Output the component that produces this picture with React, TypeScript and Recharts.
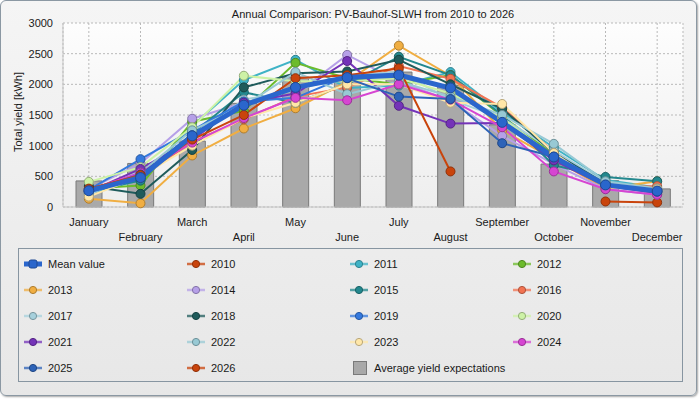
import React from 'react';
import { ComposedChart, Bar, Line, XAxis, YAxis, CartesianGrid } from 'recharts';

const months = ['January', 'February', 'March', 'April', 'May', 'June', 'July', 'August', 'September', 'October', 'November', 'December'];
const yTicks = [0, 500, 1000, 1500, 2000, 2500, 3000];

const expected = [425, 710, 1075, 1690, 2120, 2060, 2200, 1980, 1340, 700, 430, 295];
const meanValue = [265, 480, 1160, 1660, 1950, 2110, 2150, 1940, 1380, 815, 360, 260];

const y2010 = [null, null, null, null, null, null, null, null, null, null, 90, 75];
const y2011 = [225, 440, 1320, 2070, 2400, 1940, 1980, 2200, 1540, 970, 440, 320];
const y2012 = [300, 350, 1390, 1570, 2350, 2100, 2000, 2150, 1480, 850, 380, 230];
const y2013 = [135, 60, 840, 1280, 1610, 2040, 2630, 2140, 1250, 780, 300, 420];
const y2014 = [290, 710, 1440, 1700, 1840, 2480, 2050, 1730, 1160, 700, 290, 200];
const y2015 = [260, 430, 1200, 1870, 1700, 2000, 2450, 2150, 1500, 680, 490, 420];
const y2016 = [250, 480, 1060, 1430, 1800, 1950, 2300, 2090, 1620, 900, 330, 340];
const y2017 = [200, 600, 1150, 1750, 1900, 2150, 2200, 1750, 1450, 920, 400, 280];
const y2018 = [340, 215, 930, 1950, 2180, 2210, 2400, 2000, 1600, 880, 380, 260];
const y2019 = [280, 780, 1250, 1720, 1780, 2130, 2160, 1950, 1380, 800, 350, 280];
const y2020 = [410, 650, 1300, 2140, 2050, 2050, 2100, 1850, 1450, 820, 380, 300];
const y2021 = [250, 620, 1100, 1700, 1850, 2380, 1650, 1360, 1370, 760, 340, 230];
const y2022 = [220, 560, 1250, 1650, 2200, 1840, 2050, 1800, 1500, 1030, 420, 300];
const y2023 = [170, 500, 1000, 1450, 1700, 2000, 2000, 1700, 1680, 880, 320, 290];
const y2024 = [280, 560, 1050, 1450, 1780, 1740, 2000, 1750, 1300, 580, 290, 200];
const y2025 = [270, 530, 1170, 1650, 1950, 2100, 1800, 1760, 1040, 820, 360, 250];
const y2026 = [300, 520, 1100, 1500, 2100, 2150, 2260, 580, null, null, null, null];

const yearNames = ['2010', '2011', '2012', '2013', '2014', '2015', '2016', '2017', '2018', '2019', '2020', '2021', '2022', '2023', '2024', '2025', '2026'];
const yearValues = [y2010, y2011, y2012, y2013, y2014, y2015, y2016, y2017, y2018, y2019, y2020, y2021, y2022, y2023, y2024, y2025, y2026];

const yearColors: Record<string, string> = {
  '2010': '#c9440c',
  '2011': '#3fb3c6',
  '2012': '#6cbb2c',
  '2013': '#f0ae42',
  '2014': '#b6a0e8',
  '2015': '#23888e',
  '2016': '#f27352',
  '2017': '#a6d0dc',
  '2018': '#1f5b5b',
  '2019': '#3479de',
  '2020': '#cdf2a6',
  '2021': '#7433b8',
  '2022': '#98c9d4',
  '2023': '#ffe7a8',
  '2024': '#d645d2',
  '2025': '#2d63b8',
  '2026': '#c9440c',
};
const MEAN_COLOR = '#2a66cc';
const BAR_COLOR = '#a9a9a9';
const FONT = '"Liberation Sans", Arial, sans-serif';

const data = months.map((m, i) => {
  const row: Record<string, any> = { month: m, expected: expected[i], mean: meanValue[i] };
  yearNames.forEach((y, k) => {
    row['y' + y] = yearValues[k][i];
  });
  return row;
});

function darken(hex: string, f = 0.72) {
  const n = parseInt(hex.slice(1), 16);
  const r = Math.round(((n >> 16) & 255) * f);
  const g = Math.round(((n >> 8) & 255) * f);
  const b = Math.round((n & 255) * f);
  return `rgb(${r},${g},${b})`;
}

const XTick = (props: any) => {
  const { x, y, payload } = props;
  const idx = months.indexOf(payload.value);
  return (
    <text x={x} y={y + (idx % 2 === 0 ? 19 : 34)} textAnchor="middle" fontSize={11} fill="#1a1a1a" fontFamily={FONT}>
      {payload.value}
    </text>
  );
};

const YLabel = (props: any) => {
  const vb = props.viewBox || { x: 0, y: 23, width: 63, height: 184 };
  const cx = vb.x + 22;
  const cy = vb.y + vb.height / 2 - 3;
  return (
    <text x={cx} y={cy} transform={`rotate(-90 ${cx} ${cy})`} textAnchor="middle" fontSize={11} fill="#1a1a1a" fontFamily={FONT}>
      Total yield [kWh]
    </text>
  );
};

const LegendMarker = ({ name }: { name: string }) => {
  if (name === 'mean') {
    return (
      <svg width={20} height={14}>
        <line x1={0} y1={7} x2={18} y2={7} stroke={MEAN_COLOR} strokeWidth={5} />
        <rect x={5} y={3} width={8} height={8} rx={2} fill={MEAN_COLOR} stroke={darken(MEAN_COLOR)} strokeWidth={1} />
      </svg>
    );
  }
  if (name === 'expected') {
    return (
      <svg width={20} height={16}>
        <rect x={3.5} y={1.5} width={13} height={13} fill={BAR_COLOR} stroke="#7a7a7a" strokeWidth={1} />
      </svg>
    );
  }
  const c = yearColors[name];
  return (
    <svg width={20} height={14}>
      <line x1={0} y1={7} x2={18} y2={7} stroke={c} strokeWidth={2.5} strokeOpacity={0.75} />
      <circle cx={9} cy={7} r={3.6} fill={c} stroke={darken(c)} strokeWidth={1} />
    </svg>
  );
};

const legendItems = [
  { key: 'mean', label: 'Mean value' },
  ...yearNames.map((y) => ({ key: y, label: y })),
  { key: 'expected', label: 'Average yield expectations' },
];

export default function App() {
  return (
    <div style={{ position: 'fixed', left: 0, top: 0, width: 700, height: 400, background: '#ffffff', fontFamily: FONT }}>
      <div
        style={{
          position: 'absolute',
          left: 0,
          top: 0,
          width: 697,
          height: 396,
          boxSizing: 'border-box',
          border: '1px solid #8b98a3',
          borderRadius: 6,
          background: 'linear-gradient(#f5f5f5, #e7e7e7)',
          boxShadow: '1px 1px 2px rgba(0,0,0,0.35)',
        }}
      />
      <div
        style={{
          position: 'absolute',
          left: 63,
          top: 7,
          width: 620,
          textAlign: 'center',
          fontSize: 11,
          color: '#1a1a1a',
          lineHeight: '14px',
        }}
      >
        Annual Comparison: PV-Bauhof-SLWH from 2010 to 2026
      </div>
      <div style={{ position: 'absolute', left: 0, top: 0 }}>
        <ComposedChart width={700} height={245} data={data} margin={{ top: 23, right: 17, left: 0, bottom: 0 }}>
          <defs>
            <linearGradient id="plotBg" x1="0" y1="0" x2="0" y2="1">
              <stop offset="0%" stopColor="#fdfdfd" />
              <stop offset="100%" stopColor="#eeeeee" />
            </linearGradient>
          </defs>
          <CartesianGrid stroke="#b9b9b9" strokeDasharray="2 2" fill="url(#plotBg)" />
          <XAxis
            dataKey="month"
            interval={0}
            tick={<XTick />}
            tickSize={0}
            tickMargin={0}
            height={38}
            axisLine={{ stroke: '#c4c4c4' }}
            tickLine={false}
          />
          <XAxis xAxisId="top" dataKey="month" orientation="top" height={0} tick={false} tickLine={false} axisLine={{ stroke: '#c4c4c4' }} />
          <YAxis
            domain={[0, 3000]}
            ticks={yTicks}
            interval={0}
            width={63}
            tickSize={0}
            tickMargin={10}
            axisLine={{ stroke: '#c4c4c4' }}
            tickLine={false}
            tick={{ fontSize: 11, fill: '#1a1a1a', fontFamily: FONT }}
            label={<YLabel />}
          />
          <YAxis yAxisId="right" orientation="right" width={0} tick={false} tickLine={false} axisLine={{ stroke: '#c4c4c4' }} />
          <Bar dataKey="expected" barSize={26} fill={BAR_COLOR} stroke="#7a7a7a" strokeWidth={1} isAnimationActive={false} />
          {yearNames.map((y) => {
            const c = yearColors[y];
            return (
              <Line
                key={y}
                type="linear"
                dataKey={'y' + y}
                stroke={c}
                strokeWidth={2}
                dot={{ r: 4.5, fill: c, stroke: darken(c), strokeWidth: 1 }}
                activeDot={false}
                connectNulls={false}
                isAnimationActive={false}
              />
            );
          })}
          <Line
            type="linear"
            dataKey="mean"
            stroke={MEAN_COLOR}
            strokeWidth={5}
            dot={{ r: 5, fill: MEAN_COLOR, stroke: darken(MEAN_COLOR), strokeWidth: 1 }}
            activeDot={false}
            isAnimationActive={false}
          />
        </ComposedChart>
      </div>
      <div
        style={{
          position: 'absolute',
          left: 18,
          top: 248,
          width: 665,
          height: 134,
          boxSizing: 'border-box',
          border: '1px solid #8795a1',
          paddingTop: 2,
          paddingLeft: 5,
          display: 'grid',
          gridTemplateColumns: '163px 163px 163px 163px',
          gridAutoRows: '26px',
        }}
      >
        {legendItems.map((it) => (
          <div key={it.key} style={{ display: 'flex', alignItems: 'center', height: 26 }}>
            <LegendMarker name={it.key} />
            <span style={{ marginLeft: 4, fontSize: 11, color: '#1a1a1a', whiteSpace: 'nowrap' }}>{it.label}</span>
          </div>
        ))}
      </div>
    </div>
  );
}
